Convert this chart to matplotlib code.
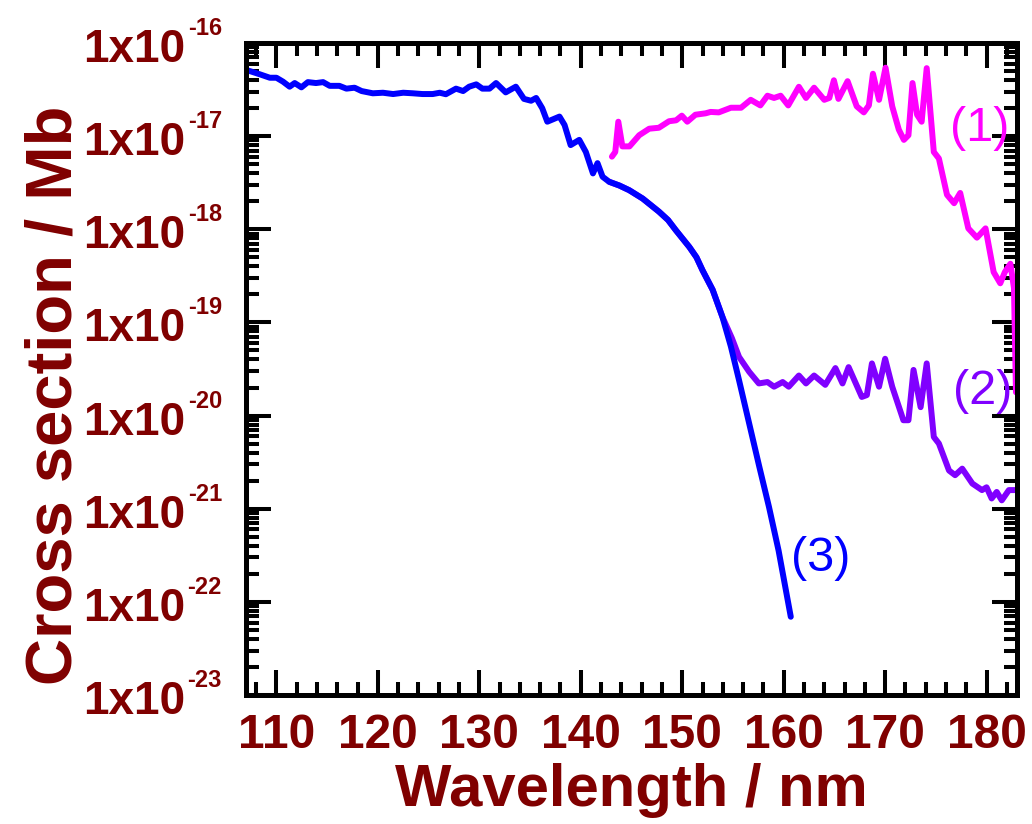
import numpy as np
import matplotlib.pyplot as plt
from matplotlib.ticker import LogLocator, MultipleLocator, NullFormatter

plt.rcParams['font.family'] = ['Liberation Sans', 'DejaVu Sans']

# curve (3) - blue, wavelength in nm, log10 of cross section in Mb
wl3 = [107.05, 108.36, 109.35, 110.0, 110.65, 111.3, 111.8, 112.46, 113.1, 113.9,
       114.6, 115.25, 116.2, 116.9, 117.7, 118.4, 119.5, 120.5, 121.5, 122.5,
       123.45, 124.4, 125.4, 126.1, 126.7, 127.7, 128.4, 129.0, 129.7, 130.3,
       131.0, 131.65, 132.6, 133.6, 134.4, 135.1, 135.6, 136.2, 136.7, 137.9,
       138.4, 139.0, 139.85, 140.5, 141.2, 141.65, 142.15, 142.8, 143.8, 144.77,
       146.1, 147.7, 148.6, 149.37, 150.7, 151.4, 152.0, 153.0, 153.96, 154.8,
       155.6, 156.6, 157.6, 158.55, 159.5, 160.7]
log_cs3 = [-16.29, -16.336, -16.373, -16.373, -16.415, -16.469, -16.43, -16.476, -16.42, -16.43,
           -16.42, -16.46, -16.46, -16.49, -16.48, -16.516, -16.54, -16.534, -16.548, -16.534,
           -16.54, -16.548, -16.548, -16.534, -16.55, -16.49, -16.516, -16.469, -16.444, -16.49,
           -16.49, -16.43, -16.53, -16.469, -16.60, -16.62, -16.59, -16.70, -16.845, -16.79,
           -16.88, -17.096, -17.04, -17.17, -17.40, -17.29, -17.436, -17.49, -17.53, -17.58,
           -17.67, -17.81, -17.90, -18.01, -18.19, -18.30, -18.44, -18.65, -18.94, -19.26,
           -19.62, -20.085, -20.55, -20.98, -21.45, -22.16]

# curve (2) - violet
wl2 = [142.8, 143.8, 144.77, 146.1, 147.7, 148.6, 149.37, 150.7, 151.4, 152.0,
       153.0, 153.96, 154.9, 155.6, 156.6, 157.55, 158.4, 159.05, 159.9, 160.5,
       161.5, 162.2, 163.0, 164.1, 165.1, 165.8, 166.4, 167.7, 168.2, 168.7,
       169.4, 170.0, 170.7, 171.8, 172.3, 172.8, 173.5, 174.1, 174.8, 175.3,
       176.3, 176.9, 177.6, 178.6, 179.55, 180.0, 180.5, 181.0, 181.5, 182.2,
       182.9]
log_cs2 = [-17.49, -17.53, -17.58, -17.67, -17.81, -17.90, -18.01, -18.19, -18.30, -18.44,
           -18.65, -18.94, -19.17, -19.37, -19.53, -19.655, -19.64, -19.69, -19.64, -19.69,
           -19.57, -19.655, -19.57, -19.67, -19.49, -19.655, -19.48, -19.80, -19.78, -19.44,
           -19.69, -19.39, -19.69, -20.05, -20.05, -19.51, -19.91, -19.44, -20.23, -20.30,
           -20.59, -20.64, -20.57, -20.73, -20.80, -20.77, -20.89, -20.82, -20.91, -20.80,
           -20.80]

# curve (1) - magenta
wl1 = [143.07, 143.4, 143.7, 144.1, 144.8, 145.76, 146.75, 147.7, 148.7, 149.4,
       149.96, 150.5, 151.3, 152.3, 152.8, 153.6, 154.8, 155.8, 156.75, 157.7,
       158.4, 159.05, 159.7, 160.45, 161.5, 162.2, 163.0, 164.0, 164.5, 164.95,
       165.4, 166.3, 167.2, 167.9, 168.4, 168.8, 169.4, 170.04, 170.7, 171.35,
       171.85, 172.3, 172.7, 173.15, 173.6, 174.1, 174.8, 175.3, 176.1, 176.8,
       177.4, 178.2, 179.05, 179.9, 180.7, 181.35, 181.8, 182.35, 182.7, 182.9]
log_cs1 = [-17.22, -17.17, -16.845, -17.11, -17.11, -16.99, -16.92, -16.91, -16.84, -16.83,
           -16.78, -16.845, -16.77, -16.755, -16.74, -16.745, -16.695, -16.695, -16.61, -16.67,
           -16.566, -16.59, -16.566, -16.67, -16.47, -16.59, -16.48, -16.61, -16.59, -16.40,
           -16.60, -16.41, -16.68, -16.745, -16.67, -16.33, -16.61, -16.265, -16.68, -16.93,
           -17.04, -16.99, -16.43, -16.77, -16.845, -16.27, -17.17, -17.24, -17.63, -17.72,
           -17.61, -17.99, -18.09, -17.99, -18.46, -18.58, -18.46, -18.37, -18.63, -19.75]

decades = [-16, -17, -18, -19, -20, -21, -22, -23]
xticks = [110, 120, 130, 140, 150, 160, 170, 180]

dark_red = '#800000'
c1 = '#ff00ff'
c2 = '#8000ff'
c3 = '#0000ff'

fig = plt.figure(figsize=(10.32, 8.24), dpi=100)
ax = fig.add_axes([246/1032, 1-695/824, 771/1032, 652/824])

for wl, lc, col in [(wl1, log_cs1, c1), (wl2, log_cs2, c2), (wl3, log_cs3, c3)]:
    ax.plot(wl, 10.0**np.array(lc), color=col, lw=4.3,
            solid_joinstyle='round', solid_capstyle='round')

ax.set_yscale('log')
ax.set_xlim(107, 183)
ax.set_ylim(1e-23, 1e-16)

ax.set_xticks(xticks)
ax.xaxis.set_minor_locator(MultipleLocator(2))
ax.set_yticks([10.0**e for e in decades])
ax.yaxis.set_minor_locator(LogLocator(base=10, subs=np.arange(2, 10)))
ax.yaxis.set_minor_formatter(NullFormatter())

ax.tick_params(which='both', direction='in', top=True, right=True,
               width=2.9, color='k')
ax.tick_params(which='major', length=18)
ax.tick_params(which='minor', length=9.5)
ax.tick_params(axis='x', labelsize=34.5, labelcolor=dark_red, pad=13)
ax.tick_params(axis='y', labelleft=False)
for lab in ax.get_xticklabels():
    lab.set_fontweight('bold')

for s in ax.spines.values():
    s.set_linewidth(3.6)

# y tick labels as 1x10 with small superscript exponent
for e in decades:
    ax.annotate('1x10', xy=(0, 10.0**e), xycoords=ax.get_yaxis_transform(),
                xytext=(-61, -19), textcoords='offset pixels', ha='right',
                va='baseline', fontsize=33, fontweight='bold', color=dark_red,
                annotation_clip=False)
    ax.annotate(str(e), xy=(0, 10.0**e), xycoords=ax.get_yaxis_transform(),
                xytext=(-24, 8), textcoords='offset pixels', ha='right',
                va='baseline', fontsize=17, fontweight='bold', color=dark_red,
                annotation_clip=False)

ax.set_xlabel('Wavelength / nm', fontsize=43, fontweight='bold', color=dark_red)
ax.set_ylabel('Cross section / Mb', fontsize=47, fontweight='bold', color=dark_red)
ax.xaxis.set_label_coords(0.5, -0.105)
ax.yaxis.set_label_coords(-0.209, 0.459)

ax.text(179.3, 10.0**-16.913, '(1)', color=c1, fontsize=35, ha='center', va='center')
ax.text(179.6, 10.0**-19.738, '(2)', color=c2, fontsize=35, ha='center', va='center')
ax.text(163.67, 10.0**-21.53, '(3)', color=c3, fontsize=35, ha='center', va='center')

fig.savefig('out.png', dpi=100)
